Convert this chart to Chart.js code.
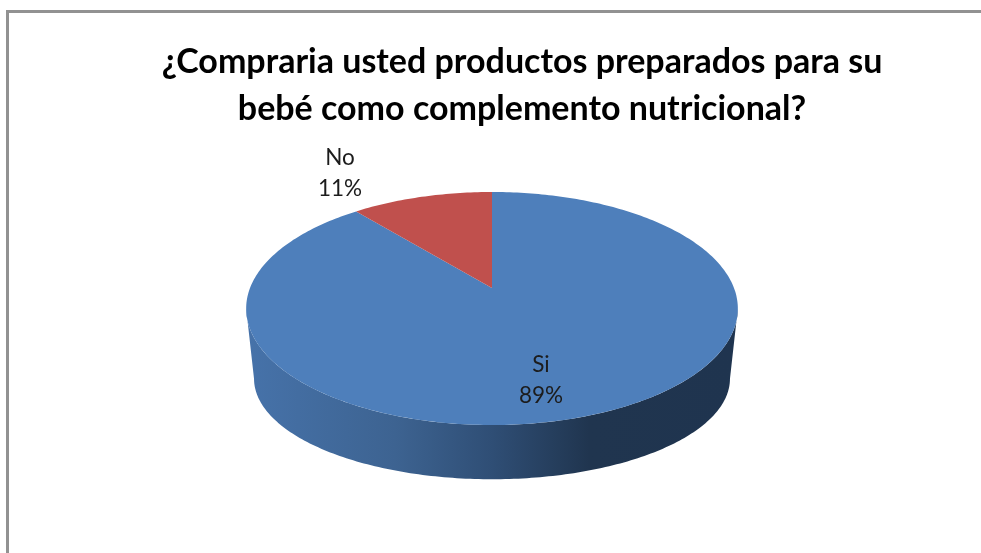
<!DOCTYPE html>
<html>
<head>
<meta charset="utf-8">
<style>
  html, body { margin: 0; padding: 0; background: #fff; overflow: hidden; }
  #frame { position: absolute; left: 6px; top: 10px; right: 0; bottom: 0; border-left: 3px solid #929292; border-top: 3px solid #929292; }
  #wrap { position: absolute; left: 0; top: 0; width: 981px; height: 553px; }
  canvas { filter: blur(0.5px); }
</style>
<script src="https://cdn.jsdelivr.net/npm/chart.js@4"></script>
</head>
<body>
<div id="frame"></div>
<div id="wrap"><canvas id="c" width="981" height="553"></canvas></div>
<script>
const categories = ['Si', 'No'];
const seriesValues = [89, 11];
const sliceColors = ['#4e7fbb', '#c0504d'];
const titleLines = ['¿Compraria usted productos preparados para su', 'bebé como complemento nutricional?'];

// Perspective projection of the pie's unit disc on to the page
const view = { apexX: 492, apexY: 288, a: 112.9, c: 0.176, d: 242, depth: 73, baseX: 0.968, baseY: 0.863 };
function pt(theta, sx = 1, sy = 1, dy = 0) {
  // theta is measured clockwise from the top of the pie
  const u = Math.sin(theta), v = Math.cos(theta);
  const w = 1 + view.c * v;
  return [view.apexX + sx * view.d * u / w, view.apexY + dy - sy * view.a * v / w];
}
const toTheta = a => a + Math.PI / 2; // Chart.js angle (0 = east) to clockwise-from-top

const pie3d = {
  id: 'pie3d',
  beforeDatasetsDraw(chart) {
    const ctx = chart.ctx;
    const arcs = chart.getDatasetMeta(0).data;
    const STEPS = 180;

    // side wall
    const g = ctx.createLinearGradient(250, 0, 735, 0);
    g.addColorStop(0, '#4672a9');
    g.addColorStop(0.3, '#3d6391');
    g.addColorStop(0.5, '#2f4e75');
    g.addColorStop(0.7, '#20354f');
    g.addColorStop(1, '#1f344f');
    ctx.save();
    ctx.beginPath();
    const from = Math.acos(-view.c), to = 2 * Math.PI - from;
    for (let i = 0; i <= STEPS; i++) {
      const p = pt(from + (to - from) * i / STEPS);
      i ? ctx.lineTo(p[0], p[1]) : ctx.moveTo(p[0], p[1]);
    }
    for (let i = STEPS; i >= 0; i--) {
      const p = pt(from + (to - from) * i / STEPS, view.baseX, view.baseY, view.depth);
      ctx.lineTo(p[0], p[1]);
    }
    ctx.closePath();
    ctx.fillStyle = g;
    ctx.fill();

    // top face: one projected wedge per slice, from the library's own arc angles
    arcs.forEach(arc => {
      const t0 = toTheta(arc.startAngle), t1 = toTheta(arc.endAngle);
      const n = Math.max(2, Math.ceil((t1 - t0) / (2 * Math.PI) * 360));
      ctx.beginPath();
      ctx.moveTo(view.apexX, view.apexY);
      for (let i = 0; i <= n; i++) {
        const p = pt(t0 + (t1 - t0) * i / n);
        ctx.lineTo(p[0], p[1]);
      }
      ctx.closePath();
      ctx.fillStyle = arc.options.backgroundColor;
      ctx.fill();
    });
    ctx.restore();

    // data labels
    const total = seriesValues.reduce((s, v) => s + v, 0);
    const spots = [[49, 77], [-152, -130]];
    ctx.save();
    ctx.font = '400 22.5px Lato';
    ctx.fillStyle = '#1c1c1c';
    ctx.textAlign = 'center';
    ctx.textBaseline = 'middle';
    categories.forEach((name, i) => {
      const x = view.apexX + spots[i][0], y = view.apexY + spots[i][1];
      ctx.fillText(name, x, y);
      ctx.fillText(Math.round(seriesValues[i] / total * 100) + '%', x, y + 30.5);
    });
    ctx.restore();
    return false;
  }
};

new Chart(document.getElementById('c'), {
  type: 'pie',
  data: {
    labels: categories,
    datasets: [{ data: seriesValues, backgroundColor: sliceColors, borderWidth: 0 }]
  },
  plugins: [pie3d],
  options: {
    responsive: false,
    animation: false,
    layout: { padding: { left: 63, right: 0, top: 0, bottom: 0 } },
    plugins: {
      legend: { display: false },
      tooltip: { enabled: false },
      title: {
        display: true,
        text: titleLines,
        color: '#000000',
        font: { family: 'Lato', size: 34, weight: 'bold', lineHeight: '47px' },
        padding: { top: 39, bottom: 10 }
      }
    }
  }
});
</script>
</body>
</html>
